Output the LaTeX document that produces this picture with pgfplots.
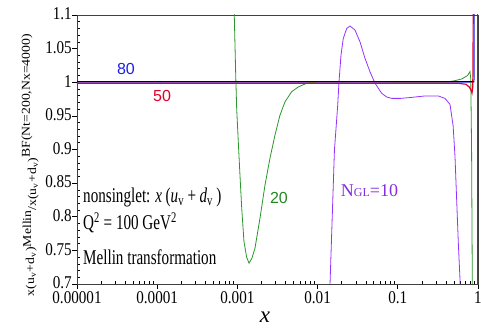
\documentclass[border=0pt]{standalone}
\usepackage{fontspec}
\setmainfont{Liberation Serif}
\newfontfamily\condfont[FakeStretch=0.72]{Liberation Serif}
\newfontfamily\tickfont[FakeStretch=0.84]{Liberation Serif}
\newfontfamily\labsans{Liberation Sans}
\usepackage{pgfplots}
\pgfplotsset{compat=1.18}
\usepackage{pgfplotstable}
\definecolor{cblue}{RGB}{30,30,240}
\definecolor{cred}{RGB}{225,0,40}
\definecolor{cgreen}{RGB}{40,150,40}
\definecolor{cpurple}{RGB}{150,50,250}

\pgfplotstableread{
lx v
-5.0 1.0
-0.05 1.0
-0.045 1.2
}\bluedata

\pgfplotstableread{
lx v
-5.0 0.9985
-0.25 0.9985
-0.15 0.997
-0.11 0.993
-0.09 0.989
-0.075 0.984
-0.066 0.992
-0.062 1.02
-0.058 1.2
-0.004 1.2
-0.003 0.6
}\reddata

\pgfplotstableread{
lx v
-3.10 1.40
-3.06 1.16
-3.039 1.10
-3.021 1.011
-3.009 0.961
-2.989 0.912
-2.968 0.862
-2.946 0.8126
-2.918 0.763
-2.885 0.740
-2.855 0.731
-2.820 0.738
-2.781 0.753
-2.718 0.798
-2.656 0.847
-2.594 0.887
-2.531 0.9216
-2.469 0.951
-2.406 0.971
-2.323 0.986
-2.241 0.993
-2.136 0.9985
-2.0 1.0008
-1.5 1.001
-1.0 1.0005
-0.39 1.0005
-0.30 1.002
-0.20 1.005
-0.13 1.010
-0.10 1.016
-0.09 1.005
-0.08 0.90
-0.071 0.70
-0.068 0.60
}\greendata

\pgfplotstableread{
lx v
-1.87 0.55
-1.845 0.70
-1.79 0.899
-1.749 0.966
-1.733 1.0008
-1.708 1.0405
-1.680 1.065
-1.637 1.080
-1.596 1.0836
-1.534 1.0777
-1.471 1.060
-1.409 1.0356
-1.347 1.0157
-1.284 0.9985
-1.201 0.9836
-1.137 0.978
-1.076 0.976
-0.969 0.976
-0.869 0.977
-0.661 0.9796
-0.495 0.9796
-0.411 0.976
-0.349 0.967
-0.31 0.935
-0.287 0.89
-0.266 0.825
-0.245 0.76
-0.224 0.706
-0.21 0.60
-0.006 0.60
-0.005 1.2
}\purpledata

\begin{document}
\begin{tikzpicture}
\useasboundingbox (-77bp,-45bp) rectangle (404bp,284bp);
\begin{axis}[
  at={(0,0)}, anchor=south west,
  scale only axis, width=401bp, height=269bp,
  xmode=log, xmin=1e-5, xmax=1, ymin=0.7, ymax=1.1,
  xtick={1e-5,1e-4,1e-3,1e-2,1e-1,1},
  xticklabels={0.00001,0.0001,0.001,0.01,0.1,1},
  minor xtick={2e-5,3e-5,4e-5,5e-5,6e-5,7e-5,8e-5,9e-5,
               2e-4,3e-4,4e-4,5e-4,6e-4,7e-4,8e-4,9e-4,
               2e-3,3e-3,4e-3,5e-3,6e-3,7e-3,8e-3,9e-3,
               2e-2,3e-2,4e-2,5e-2,6e-2,7e-2,8e-2,9e-2,
               0.2,0.3,0.4,0.5,0.6,0.7,0.8,0.9},
  ytick={0.7,0.75,0.8,0.85,0.9,0.95,1,1.05,1.1},
  yticklabels={0.7,0.75,0.8,0.85,0.9,0.95,1,1.05,1.1},
  minor y tick num=4,
  xtick pos=bottom, ytick pos=left,
  tick align=inside, major tick length=-5bp, minor tick length=3bp,
  ticklabel style={font=\tickfont\fontsize{18bp}{18bp}\selectfont, inner sep=1bp},
  yticklabel style={xshift=-4bp, yshift=1bp},
  xticklabel style={yshift=-6.5bp},
  axis line style={line width=0.8bp, black!75},
  every tick/.style={black, line width=0.6bp},
  xlabel={\fontsize{23bp}{23bp}\selectfont\itshape x},
  xlabel style={at={(axis description cs:0.469,-0.125)}, anchor=center, inner sep=0pt},
  ylabel={\resizebox*{262bp}{17bp}{\condfont x(u\textsubscript{v}+d\textsubscript{v})\raisebox{0.55ex}{Mellin}\raisebox{-0.35ex}{/x(u\textsubscript{v}+d\textsubscript{v})}\raisebox{0.75ex}{BF(Nt=200,Nx=4000)}}},
  ylabel style={at={(axis description cs:-0.117,0.442)}, anchor=center, inner sep=0pt},
  clip=true,
]
\addplot[cblue, line width=1bp] table[x expr={10^(\thisrow{lx})}, y=v] {\bluedata};
\addplot[cgreen, line width=0.8bp] table[x expr={10^(\thisrow{lx})}, y=v] {\greendata};
\addplot[cpurple, line width=0.8bp] table[x expr={10^(\thisrow{lx})}, y=v] {\purpledata};
\addplot[cred, line width=1.2bp] table[x expr={10^(\thisrow{lx})}, y=v] {\reddata};
\addplot[black, line width=1.1bp] coordinates {(1e-5,1.0006) (0.89,1.0006)};

\node[cblue, font=\labsans\fontsize{16bp}{16bp}\selectfont] at (axis description cs:0.1222,0.7993) {80};
\node[cred, font=\labsans\fontsize{16bp}{16bp}\selectfont] at (axis description cs:0.2120,0.6989) {50};
\node[cgreen!90!black, font=\labsans\fontsize{16bp}{16bp}\selectfont] at (axis description cs:0.5037,0.3197) {20};
\node[cpurple!90!black, font=\fontsize{18bp}{18bp}\selectfont] at (axis description cs:0.7294,0.3457) {N{\fontsize{12bp}{12bp}\selectfont GL}=10};

\node[anchor=west, font=\condfont\fontsize{21bp}{21bp}\selectfont, inner sep=0pt] at (axis description cs:0.015,0.3234) {nonsinglet: \textit{x}\,(\textit{u}\textsubscript{v}\,+\,\textit{d}\textsubscript{v}\,)};
\node[anchor=west, font=\condfont\fontsize{21bp}{21bp}\selectfont, inner sep=0pt] at (axis description cs:0.015,0.2268) {Q\textsuperscript{2} = 100 GeV\textsuperscript{2}};
\node[anchor=west, font=\condfont\fontsize{21bp}{21bp}\selectfont, inner sep=0pt] at (axis description cs:0.015,0.1004) {Mellin transformation};
\end{axis}
\end{tikzpicture}
\end{document}
